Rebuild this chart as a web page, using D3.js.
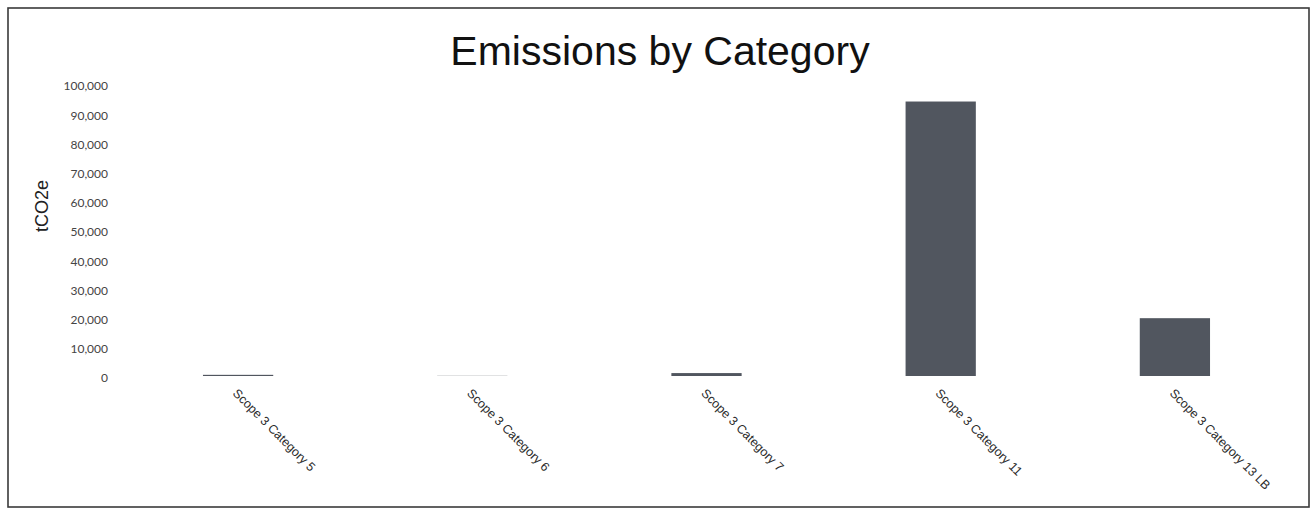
<!DOCTYPE html>
<html>
<head>
<meta charset="utf-8">
<script src="https://cdn.jsdelivr.net/npm/d3@7"></script>
<style>
  html, body { margin: 0; padding: 0; background: #fff; }
  svg { display: block; }
</style>
</head>
<body>
<svg id="chart" width="1315" height="509"></svg>
<script>
// Emission totals per Scope 3 category (tCO2e)
const categories = [
  "Scope 3 Category 5",
  "Scope 3 Category 6",
  "Scope 3 Category 7",
  "Scope 3 Category 11",
  "Scope 3 Category 13 LB"
];
const emissions = [400, 60, 1000, 94000, 19800];
const yTicks = [0, 10000, 20000, 30000, 40000, 50000, 60000, 70000, 80000, 90000, 100000];

const W = 1315, H = 509;
const plot = { left: 121, right: 1292, top: 84, bottom: 376 };

const svg = d3.select("#chart");

// outer frame
svg.append("rect")
  .attr("x", 8).attr("y", 8)
  .attr("width", 1301).attr("height", 499)
  .attr("fill", "#fff")
  .attr("stroke", "#3a3a3a")
  .attr("stroke-width", 1.6);

// title
svg.append("text")
  .attr("x", 660).attr("y", 65)
  .attr("text-anchor", "middle")
  .attr("font-family", "Liberation Sans, Arial, sans-serif")
  .attr("font-size", 41)
  .attr("fill", "#111")
  .text("Emissions by Category");

const x = d3.scaleBand()
  .domain(categories)
  .range([plot.left, plot.right])
  .paddingInner(0.7)
  .paddingOuter(0.35);

const y = d3.scaleLinear()
  .domain([0, 100000])
  .range([plot.bottom, plot.top]);

// y axis (labels only)
const yAxis = d3.axisLeft(y)
  .tickValues(yTicks)
  .tickFormat(d3.format(","))
  .tickSize(0)
  .tickPadding(0);

const gy = svg.append("g")
  .attr("transform", `translate(108,2)`)
  .call(yAxis);
gy.select(".domain").remove();
gy.selectAll("text")
  .attr("font-family", "Lato, 'Open Sans', sans-serif")
  .attr("font-size", 12)
  .attr("fill", "#444");

// y axis title
svg.append("text")
  .attr("transform", "translate(48,206) rotate(-90)")
  .attr("text-anchor", "middle")
  .attr("font-family", "Liberation Sans, Arial, sans-serif")
  .attr("font-size", 18)
  .attr("fill", "#222")
  .text("tCO2e");

// bars
svg.append("g")
  .selectAll("rect")
  .data(categories)
  .join("rect")
  .attr("x", (d) => x(d))
  .attr("width", x.bandwidth())
  .attr("y", (d, i) => y(emissions[i]))
  .attr("height", (d, i) => y(0) - y(emissions[i]))
  .attr("fill", "#51565f");

// x axis labels, rotated
const xAxis = d3.axisBottom(x).tickSize(0).tickPadding(0);
const gx = svg.append("g")
  .attr("transform", `translate(0,${plot.bottom})`)
  .call(xAxis);
gx.select(".domain").remove();
gx.selectAll("text")
  .attr("font-family", "Liberation Sans, Arial, sans-serif")
  .attr("font-size", 12.5)
  .attr("fill", "#2a2a2a")
  .attr("text-anchor", "start")
  .attr("dy", null)
  .attr("y", null)
  .attr("transform", "translate(-6,18) rotate(45)");
</script>
</body>
</html>
